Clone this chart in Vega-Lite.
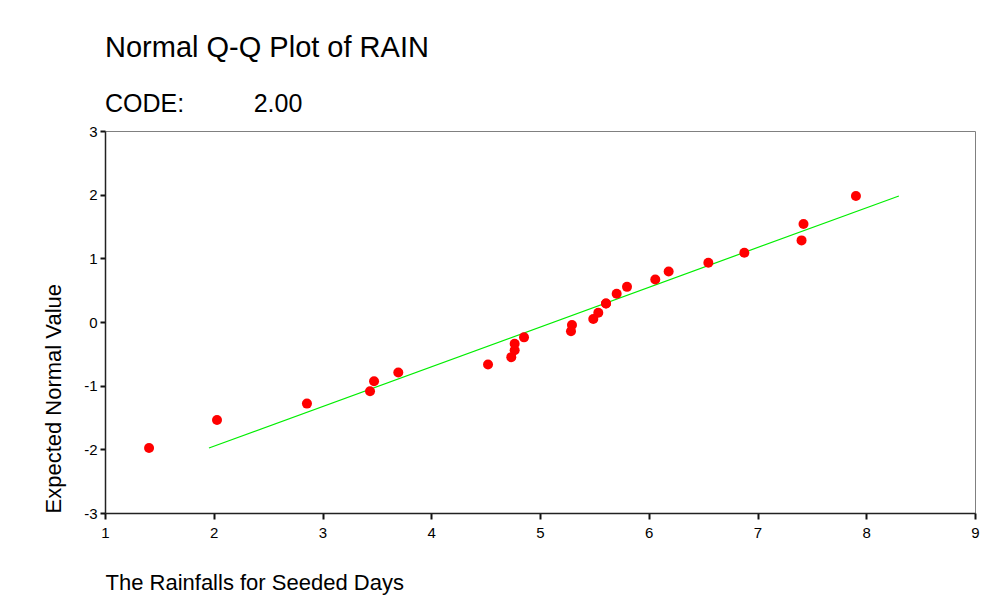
{
  "$schema": "https://vega.github.io/schema/vega-lite/v6.json",
  "autosize": "none",
  "width": 870,
  "height": 382,
  "padding": {"left": 105, "top": 131, "right": 18, "bottom": 87},
  "background": "white",
  "title": {
    "text": "Normal Q-Q Plot of RAIN",
    "subtitle": "CODE:\u00a0\u00a0\u00a0\u00a0\u00a0\u00a0\u00a0\u00a0\u00a0\u00a02.00",
    "anchor": "start",
    "frame": "group",
    "font": "Liberation Sans",
    "fontSize": 29,
    "fontWeight": "normal",
    "color": "black",
    "subtitleFont": "Liberation Sans",
    "subtitleFontSize": 25,
    "subtitleColor": "black",
    "subtitlePadding": 29,
    "offset": 7
  },
  "datasets": {
    "points": [
      {"rain": 1.405, "expected": -1.98},
      {"rain": 2.03, "expected": -1.539},
      {"rain": 2.857, "expected": -1.282},
      {"rain": 3.437, "expected": -1.089},
      {"rain": 3.474, "expected": -0.93},
      {"rain": 3.697, "expected": -0.792},
      {"rain": 4.522, "expected": -0.667},
      {"rain": 4.736, "expected": -0.552},
      {"rain": 4.767, "expected": -0.444},
      {"rain": 4.767, "expected": -0.341},
      {"rain": 4.853, "expected": -0.241},
      {"rain": 5.285, "expected": -0.144},
      {"rain": 5.294, "expected": -0.048},
      {"rain": 5.49, "expected": 0.048},
      {"rain": 5.536, "expected": 0.144},
      {"rain": 5.607, "expected": 0.29},
      {"rain": 5.607, "expected": 0.29},
      {"rain": 5.705, "expected": 0.444},
      {"rain": 5.8, "expected": 0.552},
      {"rain": 6.06, "expected": 0.667},
      {"rain": 6.183, "expected": 0.792},
      {"rain": 6.548, "expected": 0.93},
      {"rain": 6.879, "expected": 1.089},
      {"rain": 7.405, "expected": 1.282},
      {"rain": 7.423, "expected": 1.539},
      {"rain": 7.905, "expected": 1.98}
    ],
    "fit": [
      {"rain": 1.956, "expected": -1.98},
      {"rain": 8.3, "expected": 1.98}
    ]
  },
  "config": {
    "view": {"stroke": "#808080", "strokeWidth": 1},
    "font": "Liberation Sans"
  },
  "encoding": {
    "x": {
      "field": "rain",
      "type": "quantitative",
      "scale": {"domain": [1, 9], "nice": false, "zero": false},
      "axis": {
        "title": "The Rainfalls for Seeded Days",
        "values": [1, 2, 3, 4, 5, 6, 7, 8, 9],
        "labelExpr": "'' + datum.value",
        "grid": false,
        "domainColor": "#222222",
        "domainWidth": 1.5,
        "tickColor": "#111111",
        "tickWidth": 2,
        "tickSize": 6,
        "labelFont": "Liberation Sans",
        "labelFontSize": 15,
        "labelColor": "black",
        "labelPadding": 6,
        "labelFlush": false,
        "titleFont": "Liberation Sans",
        "titleFontSize": 22,
        "titleFontWeight": "normal",
        "titleColor": "black",
        "titleAnchor": "start",
        "titlePadding": 32
      }
    },
    "y": {
      "field": "expected",
      "type": "quantitative",
      "scale": {"domain": [-3, 3], "nice": false, "zero": false},
      "axis": {
        "title": "Expected Normal Value",
        "values": [-3, -2, -1, 0, 1, 2, 3],
        "labelExpr": "'' + datum.value",
        "grid": false,
        "domainColor": "#222222",
        "domainWidth": 1.5,
        "tickColor": "#111111",
        "tickWidth": 2,
        "tickSize": 5,
        "labelFont": "Liberation Sans",
        "labelFontSize": 15,
        "labelColor": "black",
        "labelPadding": 3,
        "labelFlush": false,
        "titleFont": "Liberation Sans",
        "titleFontSize": 22,
        "titleFontWeight": "normal",
        "titleColor": "black",
        "titleAnchor": "start",
        "titlePadding": 18
      }
    }
  },
  "layer": [
    {
      "data": {"name": "fit"},
      "mark": {"type": "line", "color": "#00ee00", "strokeWidth": 1.2}
    },
    {
      "data": {"name": "points"},
      "mark": {"type": "point", "filled": true, "shape": "circle", "color": "#ff0000", "size": 100, "opacity": 1}
    }
  ]
}
